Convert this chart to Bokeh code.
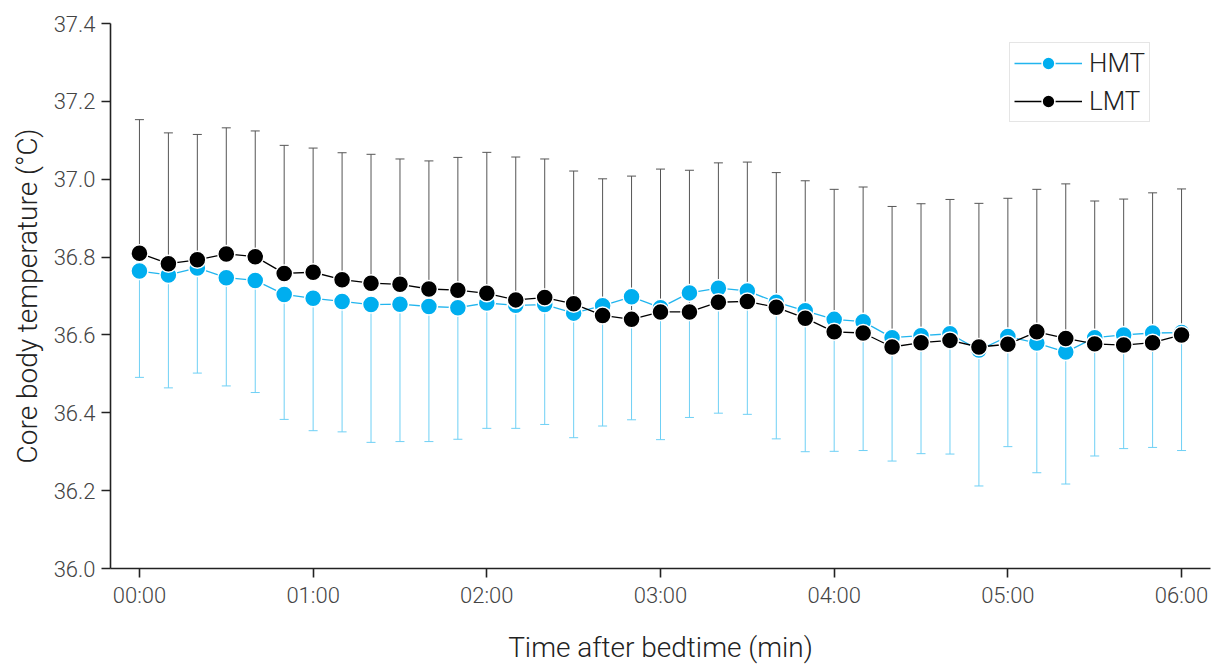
from bokeh.plotting import figure
from bokeh.models import ColumnDataSource, Whisker, TeeHead, FixedTicker, Range1d, Legend, LegendItem
from bokeh.embed import file_html
from bokeh.resources import INLINE

# time after bedtime in minutes (every 10 min)
minutes = [0, 10, 20, 30, 40, 50, 60, 70, 80, 90, 100, 110, 120, 130, 140, 150, 160, 170, 180,
           190, 200, 210, 220, 230, 240, 250, 260, 270, 280, 290, 300, 310, 320, 330, 340, 350, 360]

hmt_mean = [36.764, 36.754, 36.772, 36.747, 36.740, 36.704, 36.694, 36.686, 36.678, 36.679,
            36.673, 36.670, 36.682, 36.676, 36.678, 36.656, 36.675, 36.698, 36.670, 36.708,
            36.720, 36.713, 36.684, 36.662, 36.640, 36.634, 36.593, 36.598, 36.603, 36.561,
            36.596, 36.579, 36.556, 36.593, 36.600, 36.605, 36.606]
hmt_lower = [36.491, 36.464, 36.502, 36.469, 36.452, 36.383, 36.354, 36.351, 36.324, 36.326,
             36.326, 36.332, 36.360, 36.360, 36.370, 36.336, 36.366, 36.382, 36.331, 36.388,
             36.399, 36.396, 36.333, 36.300, 36.301, 36.303, 36.276, 36.295, 36.294, 36.212,
             36.313, 36.246, 36.217, 36.289, 36.308, 36.311, 36.303]

lmt_mean = [36.810, 36.783, 36.793, 36.808, 36.801, 36.758, 36.761, 36.742, 36.733, 36.730,
            36.718, 36.715, 36.707, 36.690, 36.696, 36.680, 36.650, 36.640, 36.659, 36.659,
            36.684, 36.686, 36.671, 36.643, 36.608, 36.605, 36.569, 36.580, 36.586, 36.569,
            36.576, 36.608, 36.591, 36.577, 36.574, 36.580, 36.600]
lmt_upper = [37.153, 37.119, 37.115, 37.132, 37.124, 37.087, 37.080, 37.068, 37.064, 37.052,
             37.047, 37.056, 37.069, 37.057, 37.052, 37.021, 37.001, 37.008, 37.026, 37.023,
             37.042, 37.044, 37.017, 36.996, 36.974, 36.980, 36.930, 36.937, 36.948, 36.938,
             36.951, 36.974, 36.988, 36.944, 36.949, 36.965, 36.975]

hour_ticks = [0, 60, 120, 180, 240, 300, 360]
hour_labels = ["00:00", "01:00", "02:00", "03:00", "04:00", "05:00", "06:00"]
y_ticks = [36.0, 36.2, 36.4, 36.6, 36.8, 37.0, 37.2, 37.4]

HMT_COLOR = "#00aeef"
HMT_LINE = "#22b5ee"
HMT_BAR = "#6fd0f5"
LMT_COLOR = "#000000"
LMT_BAR = "#555555"
FONT = "Roboto Light, Roboto"

src_h = ColumnDataSource(dict(x=minutes, y=hmt_mean, lo=hmt_lower))
src_l = ColumnDataSource(dict(x=minutes, y=lmt_mean, up=lmt_upper))

p = figure(width=1212, height=658, frame_width=1100, frame_height=545,
           min_border_left=110, min_border_top=23, min_border_right=2, min_border_bottom=90,
           x_range=Range1d(-10, 370), y_range=Range1d(36.0, 37.4),
           output_backend="svg", toolbar_location=None)
p.outline_line_color = None
p.grid.visible = False
p.background_fill_color = "white"

# error bars
wh = Whisker(source=src_h, base="x", upper="y", lower="lo", dimension="height",
             line_color=HMT_BAR, line_width=1,
             lower_head=TeeHead(size=9, line_color=HMT_BAR, line_width=1), upper_head=None)
wl = Whisker(source=src_l, base="x", upper="up", lower="y", dimension="height",
             line_color=LMT_BAR, line_width=1,
             upper_head=TeeHead(size=9, line_color=LMT_BAR, line_width=1), lower_head=None)
p.add_layout(wh)
p.add_layout(wl)

lh = p.line("x", "y", source=src_h, line_color=HMT_LINE, line_width=1.3)
sh = p.scatter("x", "y", source=src_h, size=17, fill_color=HMT_COLOR,
               line_color="white", line_width=1.5)
ll = p.line("x", "y", source=src_l, line_color=LMT_COLOR, line_width=1.3)
sl = p.scatter("x", "y", source=src_l, size=17, fill_color=LMT_COLOR,
               line_color="white", line_width=1.5)

legend = Legend(items=[LegendItem(label="HMT", renderers=[lh, sh]),
                       LegendItem(label="LMT", renderers=[ll, sl])],
                location=(899, 446), glyph_width=68, glyph_height=32,
                label_text_font=FONT, label_text_font_size="26px", label_text_color="#222222",
                border_line_color="#cccccc", border_line_width=1, padding=4, spacing=6,
                label_standoff=7, margin=0, background_fill_alpha=1)
p.add_layout(legend)

# axes
p.xaxis.ticker = FixedTicker(ticks=hour_ticks)
p.xaxis.major_label_overrides = {t: l for t, l in zip(hour_ticks, hour_labels)}
p.yaxis.ticker = FixedTicker(ticks=y_ticks)
p.yaxis.major_label_overrides = {t: f"{t:.1f}" for t in y_ticks}
for ax in (p.xaxis, p.yaxis):
    ax.axis_line_color = "#222222"
    ax.axis_line_width = 1.6
    ax.major_tick_line_color = "#222222"
    ax.major_tick_line_width = 1.6
    ax.major_tick_in = 0
    ax.major_tick_out = 9
    ax.minor_tick_line_color = None
    ax.major_label_text_font = FONT
    ax.major_label_text_font_size = "22px"
    ax.major_label_text_color = "#444444"
    ax.axis_label_text_font = FONT
    ax.axis_label_text_font_style = "normal"
    ax.axis_label_text_font_size = "28px"
    ax.axis_label_text_color = "#222222"

p.xaxis.axis_label = "Time after bedtime (min)"
p.xaxis.major_label_standoff = 5
p.xaxis.axis_label_standoff = 20
p.yaxis.axis_label = "Core body temperature (°C)"
p.yaxis.major_label_standoff = 6
p.yaxis.axis_label_standoff = 7

open("out.html", "w").write(file_html(p, INLINE))
